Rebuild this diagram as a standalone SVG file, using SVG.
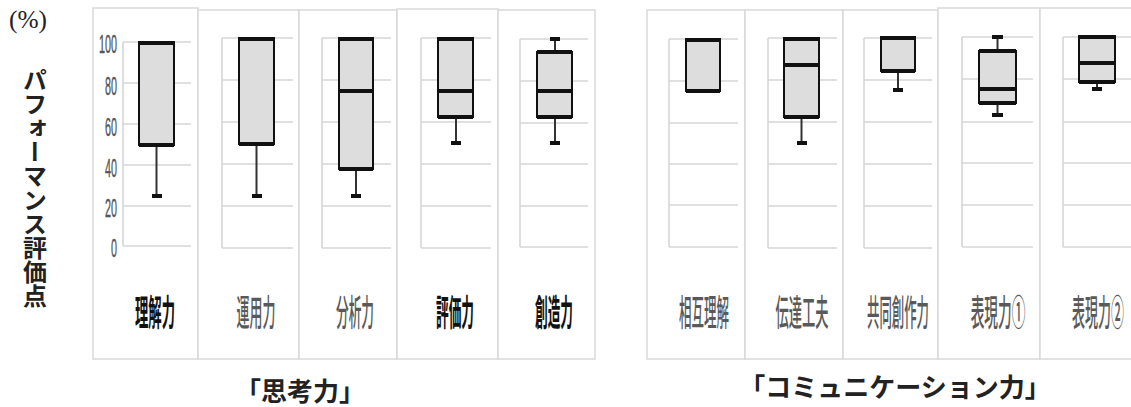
<svg xmlns="http://www.w3.org/2000/svg" width="1131" height="407" viewBox="0 0 1131 407">
<style>
.panel{fill:#ffffff;stroke:#d9d9d9;stroke-width:1.5}
.grid{stroke:#d6d6d6;stroke-width:1.6;fill:none}
.box{fill:#dddddd;stroke:#111111;stroke-width:2}
.edge{stroke:#111111;stroke-width:4;fill:none}
.wh{stroke:#333333;stroke-width:2;fill:none}
.cap{fill:#111111}
.tick{font-family:"Liberation Sans",Arial,sans-serif;font-size:26px;fill:#555555;stroke:#555555;stroke-width:0.4;text-anchor:end}
.cat{font-family:"Noto Sans CJK JP","Noto Sans",sans-serif;font-size:36px;fill:#595959;font-weight:500;text-anchor:middle}
.catb{font-family:"Noto Sans CJK JP","Noto Sans",sans-serif;font-size:36px;fill:#111111;font-weight:700;text-anchor:middle}
.title{font-family:"Noto Sans CJK JP","Noto Sans",sans-serif;font-size:26px;fill:#222222;font-weight:700}
</style>
<rect width="1131" height="407" fill="#ffffff"/>
<text x="9" y="28" font-family="'Liberation Serif','Times New Roman',serif" font-size="25" fill="#222" textLength="38" lengthAdjust="spacingAndGlyphs">(%)</text>
<text id="ytitle" x="35" y="68" class="title" style="writing-mode:vertical-rl;font-size:24px" fill="#111">パフォーマンス評価点</text>
<!-- Left group: 思考力 -->
<g id="p-rikairyoku">
<rect class="panel" x="93" y="8" width="105" height="351"/>
<path class="grid" d="M123 42H191M123 83H191M123 124H191M123 165H191M123 206H191M123 246H191M123 42V246"/>
<line class="wh" x1="156.5" y1="145" x2="156.5" y2="196"/>
<rect class="cap" x="152" y="194" width="10" height="4"/>
<rect class="box" x="139" y="42" width="35" height="103"/>
<path class="edge" d="M139 43H174M139 145H174"/>
<text class="catb" transform="translate(155,326) scale(0.37,1)">理解力</text>
</g>
<g id="p-unyouryoku">
<rect class="panel" x="198" y="10" width="101" height="349"/>
<path class="grid" d="M222 38H293M222 80H293M222 122H293M222 164H293M222 206H293M222 248H293M222 38V248"/>
<line class="wh" x1="256.5" y1="144" x2="256.5" y2="196"/>
<rect class="cap" x="252" y="194" width="10" height="4"/>
<rect class="box" x="239" y="38" width="35" height="106"/>
<path class="edge" d="M239 39H274M239 144H274"/>
<text class="cat" transform="translate(256,326) scale(0.36,1)">運用力</text>
</g>
<g id="p-bunsekiryoku">
<rect class="panel" x="299" y="10" width="98" height="349"/>
<path class="grid" d="M322 38H391M322 80H391M322 122H391M322 164H391M322 206H391M322 248H391M322 38V248"/>
<line class="wh" x1="356" y1="169" x2="356" y2="196"/>
<rect class="cap" x="351" y="194" width="10" height="4"/>
<rect class="box" x="339" y="38" width="34" height="131"/>
<path class="edge" d="M339 39H373M339 91H373M339 169H373"/>
<text class="cat" transform="translate(355,326) scale(0.352,1)">分析力</text>
</g>
<g id="p-hyoukaryoku">
<rect class="panel" x="397" y="9" width="101" height="350"/>
<path class="grid" d="M421 38H491M421 80H491M421 122H491M421 164H491M421 206H491M421 248H491M421 38V248"/>
<line class="wh" x1="456" y1="117" x2="456" y2="143"/>
<rect class="cap" x="451" y="141" width="10" height="4"/>
<rect class="box" x="438" y="38" width="35" height="79"/>
<path class="edge" d="M438 39H473M438 91H473M438 117H473"/>
<text class="catb" transform="translate(455,326) scale(0.352,1)">評価力</text>
</g>
<g id="p-souzouryoku">
<rect class="panel" x="498" y="10" width="97" height="349"/>
<path class="grid" d="M520 39H588M520 81H588M520 123H588M520 164H588M520 206H588M520 247H588M520 39V247"/>
<line class="wh" x1="555" y1="39" x2="555" y2="52"/>
<rect class="cap" x="550" y="37" width="10" height="4"/>
<line class="wh" x1="555" y1="117" x2="555" y2="143"/>
<rect class="cap" x="550" y="141" width="10" height="4"/>
<rect class="box" x="537" y="52" width="35" height="65"/>
<path class="edge" d="M537 52H572M537 91H572M537 117H572"/>
<text class="catb" transform="translate(554,326) scale(0.352,1)">創造力</text>
</g>
<g id="yaxis">
<text class="tick" transform="translate(117,53) scale(0.415,1)">100</text>
<text class="tick" transform="translate(117,95) scale(0.415,1)">80</text>
<text class="tick" transform="translate(117,136) scale(0.415,1)">60</text>
<text class="tick" transform="translate(117,177) scale(0.415,1)">40</text>
<text class="tick" transform="translate(117,217) scale(0.415,1)">20</text>
<text class="tick" transform="translate(117,257) scale(0.415,1)">0</text>
</g>
<!-- Right group: コミュニケーション力 -->
<g id="q-sougorikai">
<rect class="panel" x="647" y="10" width="98" height="349"/>
<path class="grid" d="M669 39H738M669 81H738M669 123H738M669 164H738M669 205H738M669 247H738M669 39V247"/>
<rect class="box" x="686" y="39" width="34" height="52"/>
<path class="edge" d="M686 40H720M686 91H720"/>
<text class="cat" transform="translate(704,326) scale(0.347,1)">相互理解</text>
</g>
<g id="q-dentatsukufuu">
<rect class="panel" x="745" y="10" width="98" height="349"/>
<path class="grid" d="M768 38H837M768 80H837M768 122H837M768 164H837M768 206H837M768 248H837M768 38V248"/>
<line class="wh" x1="801.5" y1="117" x2="801.5" y2="143"/>
<rect class="cap" x="797" y="141" width="10" height="4"/>
<rect class="box" x="784" y="38" width="35" height="79"/>
<path class="edge" d="M784 39H819M784 65H819M784 117H819"/>
<text class="cat" transform="translate(802,326) scale(0.368,1)">伝達工夫</text>
</g>
<g id="q-kyoudousousaku">
<rect class="panel" x="843" y="10" width="95" height="349"/>
<path class="grid" d="M864 38H932M864 80H932M864 122H932M864 164H932M864 206H932M864 248H932M864 38V248"/>
<line class="wh" x1="898" y1="71" x2="898" y2="90"/>
<rect class="cap" x="893" y="88" width="10" height="4"/>
<rect class="box" x="881" y="37" width="34" height="34"/>
<path class="edge" d="M881 38H915M881 71H915"/>
<text class="cat" transform="translate(898,326) scale(0.344,1)">共同創作力</text>
</g>
<g id="q-hyougen1">
<rect class="panel" x="938" y="8" width="102" height="351"/>
<path class="grid" d="M962 37H1033M962 79H1033M962 122H1033M962 163H1033M962 205H1033M962 247H1033M962 37V247"/>
<line class="wh" x1="997.5" y1="37" x2="997.5" y2="51"/>
<rect class="cap" x="992" y="35" width="11" height="4"/>
<line class="wh" x1="997.5" y1="103" x2="997.5" y2="115"/>
<rect class="cap" x="992" y="113" width="11" height="4"/>
<rect class="box" x="979" y="51" width="37" height="52"/>
<path class="edge" d="M979 51H1016M979 89H1016M979 103H1016"/>
<text class="cat" transform="translate(998,326) scale(0.38,1)">表現力①</text>
</g>
<g id="q-hyougen2">
<rect class="panel" x="1040" y="8" width="92" height="351"/>
<path class="grid" d="M1063 37H1131M1063 79H1131M1063 122H1131M1063 163H1131M1063 205H1131M1063 247H1131M1063 37V247"/>
<line class="wh" x1="1097" y1="82" x2="1097" y2="89"/>
<rect class="cap" x="1092" y="87" width="10" height="4"/>
<rect class="box" x="1079" y="36" width="36" height="46"/>
<path class="edge" d="M1079 37H1115M1079 63H1115M1079 82H1115"/>
<text class="cat" transform="translate(1098,326) scale(0.36,1)">表現力②</text>
</g>
<g id="titles">
<text class="title" x="300" y="401" text-anchor="middle">「思考力」</text>
<text class="title" x="895" y="397" text-anchor="middle">「コミュニケーション力」</text>
</g>
</svg>
